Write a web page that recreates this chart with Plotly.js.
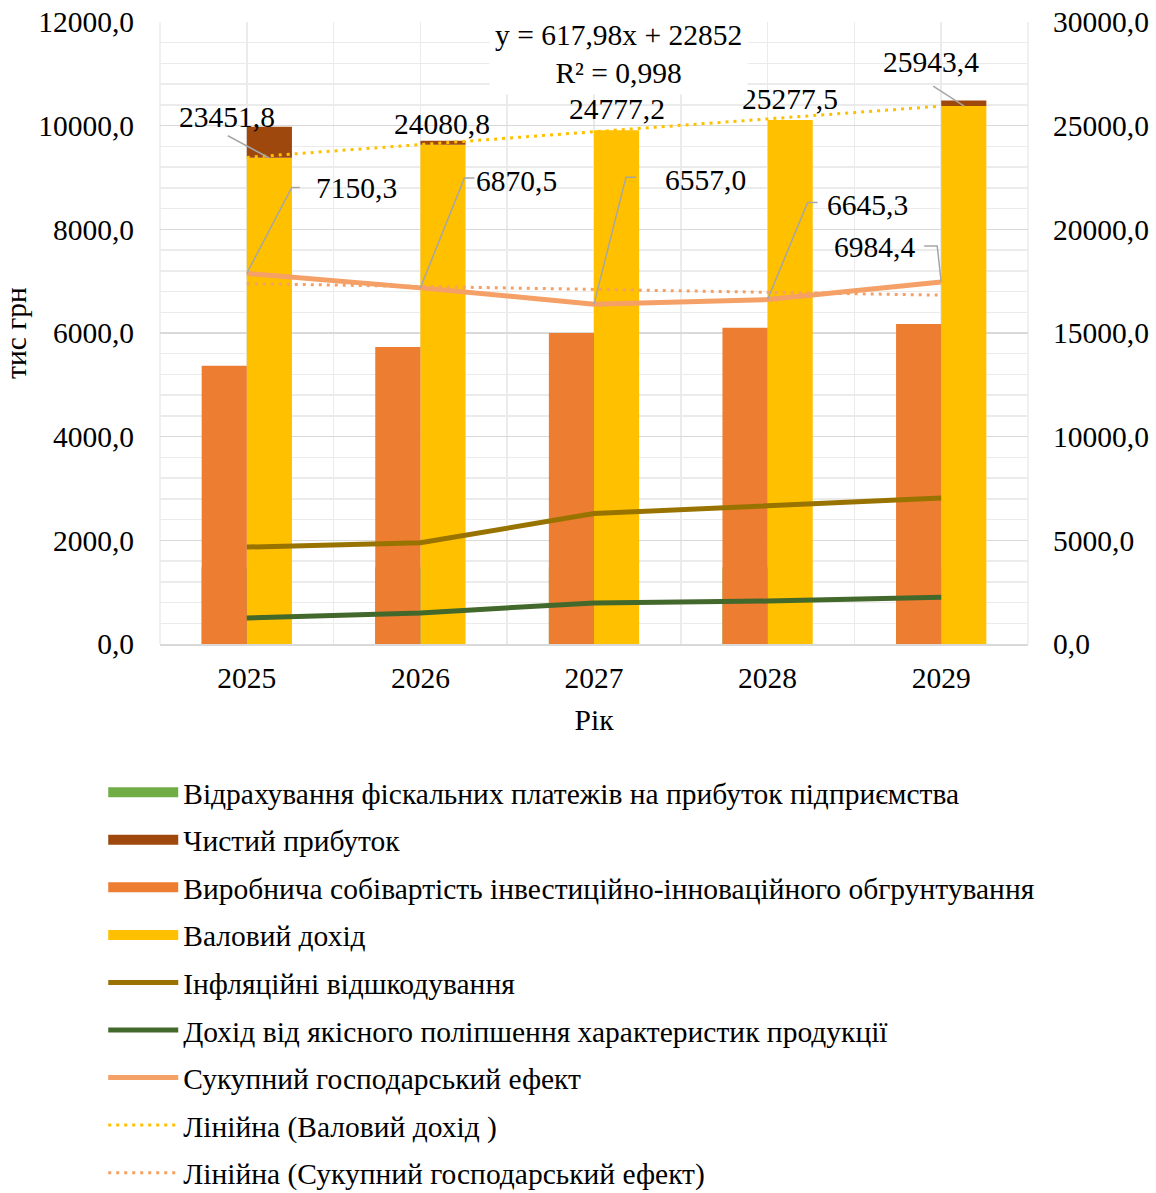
<!DOCTYPE html>
<html><head><meta charset="utf-8">
<script src="https://cdn.plot.ly/plotly-3.0.1.min.js"></script>
<style>html,body{margin:0;padding:0;background:#fff;overflow:hidden}
#wrap{width:1156px;height:1193px;overflow:hidden;position:relative}</style>
</head><body><div id="wrap"><div id="chart" style="width:1156px;height:1215px"></div></div>
<script>
// ---- data ----
const years = [2025, 2026, 2027, 2028, 2029];
const fiscalPayments = [1480, 1480, 1480, 1480, 1480];
const netProfit = [1500, 190, 0, 0, 270];
const productionCost = [5367, 5729, 6000, 6102, 6174];
const grossIncome = [23451.8, 24080.8, 24777.2, 25277.5, 25943.4];
const inflationComp = [1870, 1955, 2516, 2661, 2818];
const qualityIncome = [503, 600, 793, 828, 902];
const totalEffect = [7150.3, 6870.5, 6557.0, 6645.3, 6984.4];
const seriesNames = [
  'Відрахування фіскальних платежів на прибуток підприємства',
  'Чистий прибуток',
  'Виробнича собівартість інвестиційно-інноваційного обгрунтування',
  'Валовий дохід',
  'Інфляційні відшкодування',
  'Дохід від якісного поліпшення характеристик продукції',
  'Сукупний господарський ефект',
  'Лінійна (Валовий дохід )',
  'Лінійна (Сукупний господарський ефект)'
];
const trendText = 'y = 617,98x + 22852<br>R² = 0,998';

// ---- helpers ----
function linTrend(vals) {
  const n = vals.length; const xs = vals.map((_, i) => i + 1);
  const mx = xs.reduce((a, b) => a + b, 0) / n, my = vals.reduce((a, b) => a + b, 0) / n;
  let sxy = 0, sxx = 0;
  for (let i = 0; i < n; i++) { sxy += (xs[i] - mx) * (vals[i] - my); sxx += (xs[i] - mx) ** 2; }
  const b = sxy / sxx, a = my - b * mx;
  return xs.map(x => a + b * x);
}
const fmt = v => v.toFixed(1).replace('.', ',');

const FONT = 'Liberation Serif, Times New Roman, serif';
const FS = 29.5;
const C = {green:'#70AD47', brown:'#9E480E', orange:'#ED7D31', gold:'#FFC000',
           olive:'#997300', dgreen:'#43682B', lorange:'#F4A066', grid:'#d9d9d9', minor:'#ebebeb', leader:'#A6A6A6'};
const BW = 0.26;

const traces = [];
// bars: gold + brown on base axis 'y' (right, 0-30000)
traces.push({type:'bar', x: years, y: grossIncome, yaxis:'y', offset:0, width:BW,
  marker:{color:C.gold}, showlegend:false, name: seriesNames[3]});
traces.push({type:'bar', x: years, y: netProfit, base: grossIncome, yaxis:'y', offset:0, width:BW,
  marker:{color:C.brown}, showlegend:false, name: seriesNames[1]});
// gross income trend (dotted) on y
traces.push({type:'scatter', mode:'lines', x: years, y: linTrend(grossIncome), yaxis:'y',
  line:{color:C.gold, width:3, dash:'3px,5px'}, name: seriesNames[7], legendrank: 8, legendgroup:'g8'});
// bars on y2 (left 0-12000)
traces.push({type:'bar', x: years, y: fiscalPayments, yaxis:'y2', offset:-BW, width:BW,
  marker:{color:C.green}, showlegend:false, name: seriesNames[0]});
traces.push({type:'bar', x: years, y: productionCost, yaxis:'y2', offset:-BW, width:BW,
  marker:{color:C.orange}, showlegend:false, name: seriesNames[2]});
// lines on y2
traces.push({type:'scatter', mode:'lines', x: years, y: inflationComp, yaxis:'y2',
  line:{color:C.olive, width:5}, name: seriesNames[4], legendrank: 5, legendgroup:'g5'});
traces.push({type:'scatter', mode:'lines', x: years, y: qualityIncome, yaxis:'y2',
  line:{color:C.dgreen, width:5}, name: seriesNames[5], legendrank: 6, legendgroup:'g6'});
traces.push({type:'scatter', mode:'lines', x: years, y: totalEffect, yaxis:'y2',
  line:{color:C.lorange, width:5}, name: seriesNames[6], legendrank: 7, legendgroup:'g7'});
traces.push({type:'scatter', mode:'lines', x: years, y: linTrend(totalEffect), yaxis:'y2',
  line:{color:C.lorange, width:3, dash:'3px,5px'}, name: seriesNames[8], legendrank: 9, legendgroup:'g9'});
// legend proxies for bar series (rectangular swatches)
[[0, C.green], [1, C.brown], [2, C.orange], [3, C.gold]].forEach(([i, col]) => {
  traces.push({type:'scatter', mode:'lines', x:[null], y:[null], yaxis:'y2',
    line:{color:col, width:15}, name: seriesNames[i], legendrank: i + 1, legendgroup:'g' + (i + 1)});
});

// ---- label placement (pixel offsets, style only) ----
const totalLblShift = [[110, 85], [96, 107], [111, 124], [100, 95], [-67, 35]];
const totalLeader = [[[45, 86], [53, 86]], [[44, 110], [54, 110]], [[32, 127], [42, 127]], [[40, 97], [50, 97]], [[-4, 36], [-17, 36]]];
const grossLblShift = [[-19.5, 41], [22, 21], [22.5, 21], [22.5, 21], [-10, 44]];
const grossLeader = [[[22, 0], [-19, 22]], null, null, null, [[23, 0], [-8, 20]]];

const annotations = [];
const shapes = [];
years.forEach((yr, i) => {
  annotations.push({x: yr, y: totalEffect[i], xref:'x', yref:'y2', text: fmt(totalEffect[i]), showarrow:false,
    xshift: totalLblShift[i][0], yshift: totalLblShift[i][1], font:{family:FONT, size:FS, color:'#000'}});
  const L = totalLeader[i];
  shapes.push({type:'path', xref:'x', yref:'y2', xsizemode:'pixel', ysizemode:'pixel', xanchor: yr, yanchor: totalEffect[i],
    path: `M0,0 L${L[0][0]},${L[0][1]} L${L[1][0]},${L[1][1]}`, line:{color:C.leader, width:1.5}});
  annotations.push({x: yr, y: grossIncome[i], xref:'x', yref:'y', text: fmt(grossIncome[i]), showarrow:false,
    xshift: grossLblShift[i][0], yshift: grossLblShift[i][1], font:{family:FONT, size:FS, color:'#000'}});
  const G = grossLeader[i];
  if (G) shapes.push({type:'path', xref:'x', yref:'y', xsizemode:'pixel', ysizemode:'pixel', xanchor: yr, yanchor: grossIncome[i],
    path: `M${G[0][0]},${G[0][1]} L${G[1][0]},${G[1][1]}`, line:{color:C.leader, width:1.5}});
});
annotations.push({xref:'paper', yref:'paper', x:0.5288, y:0.9486, xanchor:'center', yanchor:'middle',
  text: trendText, showarrow:false, bgcolor:'#ffffff', borderpad:5, font:{family:FONT, size:FS, color:'#000'}});
// plot border vertical grid lines at edges
shapes.push({type:'line', xref:'paper', yref:'paper', x0:0, x1:0, y0:0, y1:1, line:{color:C.minor, width:1.5}, layer:'below'});
shapes.push({type:'line', xref:'paper', yref:'paper', x0:1, x1:1, y0:0, y1:1, line:{color:C.minor, width:1.5}, layer:'below'});

const layout = {
  width:1156, height:1215,
  margin:{l:160, r:128, t:22, b:571},
  paper_bgcolor:'#fff', plot_bgcolor:'#fff',
  separators:', ',
  font:{family:FONT, size:FS, color:'#000'},
  barmode:'overlay',
  showlegend:true,
  legend:{orientation:'v', x:-0.0654, xanchor:'left', y:-0.1971, yanchor:'top', itemwidth:70,
    font:{family:FONT, size:FS, color:'#000'}, traceorder:'grouped', tracegroupgap:6.2, bgcolor:'rgba(0,0,0,0)'},
  xaxis:{type:'linear', range:[2024.5, 2029.5], tickvals: years, ticktext: years.map(String),
    showgrid:true, gridcolor:C.minor, gridwidth:1.5, zeroline:false,
    minor:{tick0:2024.5, dtick:1, showgrid:true, gridcolor:C.minor, gridwidth:1.5},
    showline:true, linecolor:C.grid, linewidth:2, ticks:'', ticklabelstandoff:7,
    tickfont:{family:FONT, size:FS},
    title:{text:'Рік', font:{family:FONT, size:FS}, standoff:16}},
  yaxis:{range:[0, 30000], side:'right', dtick:5000, tickformat:'.1f', showgrid:true, gridcolor:C.grid, gridwidth:1.5,
    minor:{dtick:1000, showgrid:true, gridcolor:C.minor, gridwidth:1.5},
    zeroline:false, showline:false, ticks:'', ticklabelstandoff:24, tickfont:{family:FONT, size:FS}},
  yaxis2:{range:[0, 12000], overlaying:'y', side:'left', dtick:2000, tickformat:'.1f', showgrid:false, zeroline:false,
    showline:false, ticks:'', ticklabelstandoff:25, tickfont:{family:FONT, size:FS},
    title:{text:'тис грн', font:{family:FONT, size:FS}, standoff:8}},
  annotations: annotations,
  shapes: shapes
};
Plotly.newPlot('chart', traces, layout, {displayModeBar:false, staticPlot:true});
</script></body></html>
